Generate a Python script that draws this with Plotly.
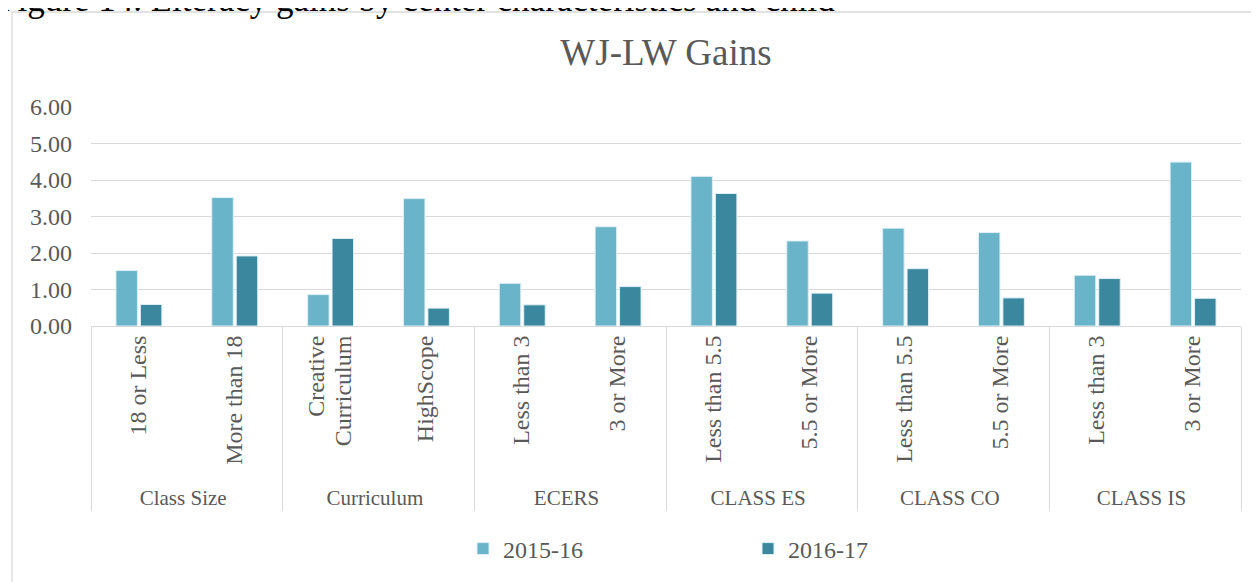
import plotly.graph_objects as go

groups = ["Class Size", "Class Size", "Curriculum", "Curriculum", "ECERS", "ECERS",
          "CLASS ES", "CLASS ES", "CLASS CO", "CLASS CO", "CLASS IS", "CLASS IS"]
subcats = ["18 or Less", "More than 18", "Creative<br>Curriculum", "HighScope",
           "Less than 3", "3 or More", "Less than 5.5", "5.5 or More",
           "Less than 5.5", "5.5 or More", "Less than 3", "3 or More"]
gains_1516 = [1.52, 3.52, 0.86, 3.49, 1.17, 2.72, 4.10, 2.33, 2.68, 2.56, 1.39, 4.49]
gains_1617 = [0.59, 1.92, 2.40, 0.49, 0.58, 1.08, 3.63, 0.90, 1.57, 0.77, 1.30, 0.76]

FONT = "Liberation Serif, Times New Roman, serif"
GREY = "#595959"
LINE = "#d9d9d9"

# page body has an 8px margin, so screen positions are figure positions + 8
OFF = 8
W, H = 1259, 582
L, R, T, B = 83, 26, 99, 264
pw, ph = W - L - R, H - T - B

def px(x):
    return (x - OFF - L) / pw

def py(y):
    return (H - B - (y - OFF)) / ph

# larger font for the rotated inner labels
inner = ["<span style='font-size:24px'>" + s.replace("<br>", "</span><br><span style='font-size:24px'>") + "</span>"
         for s in subcats]

fig = go.Figure()
fig.add_trace(go.Bar(x=[groups, inner], y=gains_1516, name="2015-16",
                     marker=dict(color="#6ab4ca", line=dict(color="#dff0f5", width=1))))
fig.add_trace(go.Bar(x=[groups, inner], y=gains_1617, name="2016-17",
                     marker=dict(color="#3b889e", line=dict(color="#dff0f5", width=1))))

fig.update_layout(
    width=W, height=H,
    margin=dict(l=L, r=R, t=T, b=B, autoexpand=False),
    paper_bgcolor="white", plot_bgcolor="white",
    font=dict(family=FONT, color=GREY, size=21),
    title=dict(text="WJ-LW Gains", x=0.5, xanchor="center", xref="paper",
               y=1 - (52 - OFF) / H, yref="container", yanchor="middle",
               font=dict(size=37, color=GREY, family=FONT)),
    barmode="group", bargap=0.49, bargroupgap=0.12,
    showlegend=True,
    legend=dict(orientation="h", x=px(463), xanchor="left", y=py(549), yanchor="middle",
                entrywidth=240, font=dict(size=24, color=GREY, family=FONT),
                itemclick=False, bgcolor="rgba(0,0,0,0)"),
    yaxis=dict(range=[0, 6], dtick=1, tickformat=".2f", showgrid=True,
               gridcolor=LINE, gridwidth=1.3, zeroline=False, showline=False,
               ticks="", ticklabelstandoff=18,
               tickfont=dict(size=24, color=GREY), fixedrange=True),
    xaxis=dict(type="multicategory", tickangle=-90, showline=True, linecolor=LINE,
               linewidth=1.3, showdividers=True, dividercolor=LINE, dividerwidth=1.3,
               tickfont=dict(size=21, color=GREY), ticks="", fixedrange=True),
)

# outer chart frame
fig.add_shape(type="rect", xref="paper", yref="paper",
              x0=px(12), x1=px(1258), y0=py(600), y1=py(12),
              line=dict(color=LINE, width=1.3), fillcolor="rgba(0,0,0,0)", layer="below")

# document caption above the chart (partly cut off at the top)
fig.add_annotation(text="Figure 14. Literacy gains by center characteristics and child",
                   xref="paper", yref="paper", x=px(-4), y=py(21), xanchor="left",
                   yanchor="bottom", showarrow=False,
                   font=dict(size=35, color="black", family=FONT))

fig.write_html("out.html")
